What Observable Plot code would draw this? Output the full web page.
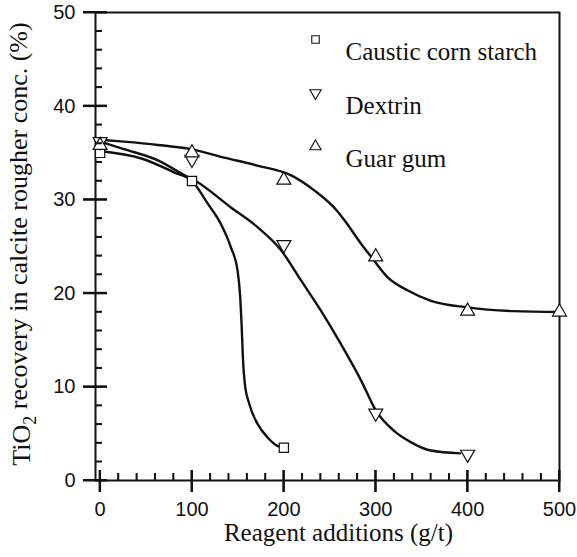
<!DOCTYPE html>
<html>
<head>
<meta charset="utf-8">
<script src="https://cdn.jsdelivr.net/npm/d3@7"></script>
<script src="https://cdn.jsdelivr.net/npm/@observablehq/plot@0.6"></script>
<style>
  html, body { margin: 0; padding: 0; background: #fff; }
</style>
</head>
<body>
<div id="chart"></div>
<script>
// ---- data ----
const doses = [0, 100, 200, 300, 400, 500];
const cornStarch = [35.0, 32.0, 3.5];
const dextrin = [36.2, 34.3, 25.2, 7.2, 2.8];
const guarGum = [35.8, 35.0, 32.1, 23.9, 18.1, 18.0];

// fitted curves
const cornCurveX = [0, 45, 81, 100, 117, 131.5, 142.4, 149.7, 152.5, 154, 155.4, 157.6, 162.3, 171.4, 182.3, 193, 200];
const cornCurveY = [35.2, 34.4, 32.9, 32.0, 29.6, 27.4, 24.9, 22.4, 19.6, 16.7, 13.2, 10.3, 8.2, 6.05, 4.6, 3.7, 3.5];
const dextrinCurveX = [0, 26, 63, 92, 104, 142, 171, 197, 218.5, 240, 262, 284, 300, 320, 338, 360, 392];
const dextrinCurveY = [36.2, 35.4, 34.2, 32.6, 32.0, 29.2, 27.1, 24.6, 21.4, 18.2, 14.6, 10.7, 7.5, 5.3, 4.1, 3.2, 2.9];
const guarCurveX = [0, 26, 63, 99, 135, 171, 208, 233, 258, 266, 284, 295, 313, 335, 360, 400, 450, 500];
const guarCurveY = [36.4, 36.2, 35.85, 35.4, 34.5, 33.65, 32.6, 31.0, 28.8, 27.8, 25.3, 23.9, 21.7, 20.3, 19.2, 18.5, 18.1, 18.0];

const seriesNames = ["Caustic corn starch", "Dextrin", "Guar gum"];
const xMajor = [0, 100, 200, 300, 400, 500];
const xMinor = d3.range(20, 500, 20).filter(v => v % 100 !== 0);
const yMajor = [0, 10, 20, 30, 40, 50];
const yMinor = d3.range(2, 50, 2).filter(v => v % 10 !== 0);
const xTitle = "Reagent additions (g/t)";
const yTitleParts = ["TiO", "2", " recovery in calcite rougher conc. (%)"];

// ---- symbols ----
const downTriangle = {
  draw(context, size) {
    const y = -Math.sqrt(size / (Math.sqrt(3) * 3));
    context.moveTo(0, -y * 2);
    context.lineTo(-Math.sqrt(3) * y, y);
    context.lineTo(Math.sqrt(3) * y, y);
    context.closePath();
  }
};
const symbols = ["square", downTriangle, "triangle"];

const toPoints = (xs, ys) => xs.map((x, i) => ({x, y: ys[i]}));
const curves = [
  toPoints(cornCurveX, cornCurveY),
  toPoints(dextrinCurveX, dextrinCurveY),
  toPoints(guarCurveX, guarCurveY)
];
const points = [
  toPoints(doses.slice(0, cornStarch.length), cornStarch),
  toPoints(doses.slice(0, dextrin.length), dextrin),
  toPoints(doses.slice(0, guarGum.length), guarGum)
];

const W = 577, H = 557, ML = 95, MR = 18, MT = 12, MB = 77;
const innerW = W - ML - MR, innerH = H - MT - MB;
const serif = "'Liberation Serif', 'Times New Roman', Times, serif";
const ink = "#111";

const legendMarks = seriesNames.flatMap((name, i) => [
  Plot.dot([name], {
    frameAnchor: "top-left", dx: 220, dy: 27 + i * 53.5,
    symbol: () => symbols[i], r: 4.2, stroke: ink, fill: "white", strokeWidth: 1.1
  }),
  Plot.text([name], {
    frameAnchor: "top-left", dx: 250, dy: 30 + i * 53.5,
    text: d => d, textAnchor: "start", fontSize: 25, fontFamily: serif, fill: ink
  })
]);

const chart = Plot.plot({
  width: W,
  height: H,
  marginLeft: ML,
  marginRight: MR,
  marginTop: MT,
  marginBottom: MB,
  style: {background: "#fff", color: ink, fontFamily: "'Liberation Sans', Arial, Helvetica, sans-serif"},
  x: {domain: [-5, 500]},
  y: {domain: [0, 50]},
  marks: [
    Plot.frame({stroke: ink, strokeWidth: 2}),
    Plot.axisX(xMajor, {tickSize: 0, tickPadding: 21, fontSize: 20, label: null, fill: ink}),
    Plot.axisY(yMajor, {tickSize: 0, tickPadding: 20, fontSize: 20, label: null, fill: ink}),
    ...curves.map(c => Plot.line(c, {x: "x", y: "y", curve: "monotone-x", stroke: ink, strokeWidth: 2.4})),
    ...points.map((p, i) => Plot.dot(p, {x: "x", y: "y", symbol: () => symbols[i], r: 5.2, stroke: ink, fill: "white", strokeWidth: 1.2})),
    Plot.text([xTitle], {frameAnchor: "bottom", dx: 11, dy: 60, text: d => d, fontSize: 25, fontFamily: serif, fill: ink}),
    ...legendMarks,
    // tick marks: major ticks cross the axis, minor ticks point inward
    Plot.tickX(xMajor, {x: d => d, insetTop: innerH - 10, insetBottom: -12, stroke: ink, strokeWidth: 2}),
    Plot.tickX(xMinor, {x: d => d, insetTop: innerH - 7, stroke: ink, strokeWidth: 1.5}),
    Plot.tickY(yMajor, {y: d => d, insetLeft: -12, insetRight: innerW - 12, stroke: ink, strokeWidth: 2}),
    Plot.tickY(yMinor, {y: d => d, insetRight: innerW - 7, stroke: ink, strokeWidth: 1.5})
  ]
});

document.getElementById("chart").appendChild(chart);

const svg = d3.select(chart);

// reinforce tick marks on top, positioned through Plot's own scales
try {
  const xs = chart.scale("x"), ys = chart.scale("y");
  const g = svg.append("g").attr("stroke", ink).attr("fill", "none");
  const y0 = H - MB, x0 = ML;
  xMajor.forEach(v => { const px = xs.apply(v);
    g.append("line").attr("x1", px).attr("x2", px).attr("y1", y0 - 10).attr("y2", y0 + 12).attr("stroke-width", 2); });
  xMinor.forEach(v => { const px = xs.apply(v);
    g.append("line").attr("x1", px).attr("x2", px).attr("y1", y0 - 7).attr("y2", y0).attr("stroke-width", 1.5); });
  yMajor.forEach(v => { const py = ys.apply(v);
    g.append("line").attr("x1", x0 - 12).attr("x2", x0 + 12).attr("y1", py).attr("y2", py).attr("stroke-width", 2); });
  yMinor.forEach(v => { const py = ys.apply(v);
    g.append("line").attr("x1", x0).attr("x2", x0 + 7).attr("y1", py).attr("y2", py).attr("stroke-width", 1.5); });
} catch (e) { /* Plot tick marks above remain */ }

// y-axis title with subscript
const t = svg.append("text")
  .attr("transform", "translate(30,244) rotate(-90)")
  .attr("text-anchor", "middle")
  .attr("font-family", serif)
  .attr("font-size", 26)
  .attr("fill", ink);
t.append("tspan").text(yTitleParts[0]);
t.append("tspan").attr("font-size", 18).attr("dy", "0.35em").text(yTitleParts[1]);
t.append("tspan").attr("dy", "-0.35em").text(yTitleParts[2]);
</script>
</body>
</html>
